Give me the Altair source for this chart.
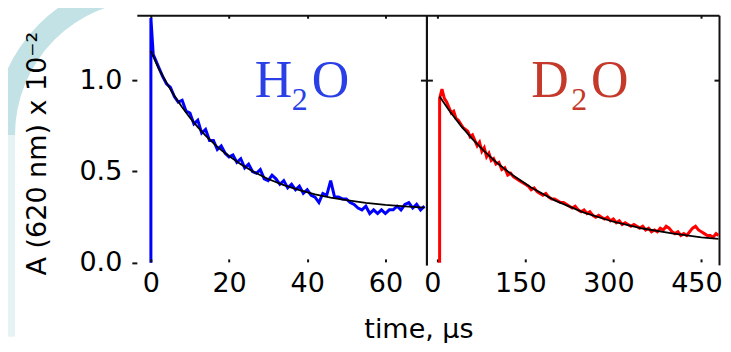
import math
import altair as alt
import pandas as pd

# ---------------- data ----------------
h2o_t = [0, 0, 0.6, 1, 2, 3, 4, 5, 6, 7, 8, 9, 10, 11, 12, 13, 14, 15, 16, 17, 18, 19, 20,
         21, 22, 23, 24, 25, 26, 27, 28, 29, 30, 31, 32, 33, 34, 35, 36, 37, 38, 39, 40,
         41, 42, 43, 44, 45, 46, 47, 48, 49, 50, 51, 52, 53, 54, 55, 56, 57, 58, 59, 60,
         61, 62, 63, 64, 65, 66, 67, 68, 69, 70]
h2o_a = [0.0, 1.34, 1.14, 1.12, 1.07, 1.02, 0.98, 0.96, 0.91, 0.88, 0.89, 0.83, 0.82, 0.76,
         0.78, 0.71, 0.73, 0.67, 0.67, 0.62, 0.64, 0.60, 0.58, 0.59, 0.55, 0.57, 0.52, 0.54,
         0.50, 0.49, 0.51, 0.46, 0.45, 0.48, 0.46, 0.43, 0.45, 0.41, 0.43, 0.40, 0.42, 0.38,
         0.40, 0.37, 0.36, 0.33, 0.38, 0.37, 0.45, 0.36, 0.36, 0.35, 0.35, 0.33, 0.32, 0.30,
         0.29, 0.31, 0.27, 0.29, 0.27, 0.29, 0.27, 0.29, 0.29, 0.31, 0.29, 0.32, 0.33, 0.30,
         0.32, 0.29, 0.31]
h2o_fit_t = [0, 2, 4, 6, 8, 10, 12, 14, 16, 18, 20, 23, 26, 30, 34, 38, 42, 46, 50, 55, 60, 65, 70]
h2o_fit_a = [1.16, 1.063, 0.985, 0.914, 0.851, 0.794, 0.743, 0.696, 0.655, 0.617, 0.584,
             0.539, 0.501, 0.459, 0.425, 0.398, 0.375, 0.357, 0.343, 0.328, 0.317, 0.309, 0.302]

d2o_t = [4, 4, 8, 12, 16, 20, 24, 28, 32, 36, 40, 44, 48, 52, 56, 60, 64, 68, 72, 76, 80, 84,
         88, 92, 96, 100, 105, 110, 115, 120, 125, 130, 135, 140, 145, 150, 155, 160, 165,
         170, 175, 180, 185, 190, 195, 200, 205, 210, 215, 220, 225, 230, 235, 240, 245, 250,
         255, 260, 265, 270, 275, 280, 285, 290, 295, 300, 305, 310, 315, 320, 325, 330, 335,
         340, 345, 350, 355, 360, 365, 370, 375, 380, 385, 390, 395, 400, 405, 410, 415, 420,
         425, 430, 435, 440, 445, 450, 455, 460, 465, 470, 475, 479]
d2o_a = [0.0, 0.90, 0.95, 0.90, 0.88, 0.85, 0.82, 0.83, 0.79, 0.78, 0.76, 0.74, 0.73, 0.72,
         0.69, 0.70, 0.67, 0.64, 0.66, 0.61, 0.63, 0.58, 0.60, 0.56, 0.57, 0.54, 0.55, 0.51,
         0.52, 0.48, 0.49, 0.47, 0.46, 0.45, 0.44, 0.43, 0.42, 0.40, 0.41, 0.39, 0.38, 0.37,
         0.38, 0.36, 0.35, 0.35, 0.34, 0.33, 0.33, 0.32, 0.31, 0.30, 0.31, 0.29, 0.28, 0.29,
         0.27, 0.28, 0.26, 0.25, 0.26, 0.25, 0.24, 0.25, 0.23, 0.24, 0.22, 0.23, 0.21, 0.22,
         0.21, 0.20, 0.21, 0.20, 0.19, 0.20, 0.18, 0.19, 0.17, 0.18, 0.17, 0.19, 0.18, 0.20,
         0.19, 0.17, 0.16, 0.17, 0.15, 0.16, 0.15, 0.17, 0.19, 0.20, 0.18, 0.17, 0.16, 0.15,
         0.15, 0.14, 0.16, 0.15]
d2o_fit_t = [4, 20, 40, 60, 80, 100, 130, 160, 200, 250, 300, 350, 400, 450, 479]
d2o_fit_a = [0.91, 0.835, 0.751, 0.677, 0.611, 0.552, 0.476, 0.412, 0.342, 0.275, 0.225,
             0.188, 0.161, 0.140, 0.131]

h2o_ticks = [0, 20, 40, 60]
d2o_ticks = [0, 150, 300, 450]
y_ticks = [0.0, 0.5, 1.0]
y_mark = [1.0]
d2o_top_ticks = [0, 450]

y_title = "A (620 nm) x 10\u207b\u00b2"
x_title = "time, \u03bcs"

# ---------------- layout / style constants ----------------
SANS = "DejaVu Sans"
SERIF = "Liberation Serif"
Y_DOM = [-0.011, 1.355]
XL_DOM = [-3.6, 70.5]
XR_DOM = [-18.5, 480]
BORDER = "#111111"

# decorative slide-background corner (pixels, relative to the left plot area)
DECO_CX, DECO_CY = 13, 120
DECO_R_OUT, DECO_R_IN = 157, 135
DECO_ARC_COLOR = "#c2e2e5"
DECO_BAND_COLOR = "#e6f3f4"

h2o_df = pd.DataFrame({"t": h2o_t, "a": h2o_a})
h2o_fit_df = pd.DataFrame({"t": h2o_fit_t, "a": h2o_fit_a})
d2o_df = pd.DataFrame({"t": d2o_t, "a": d2o_a})
d2o_fit_df = pd.DataFrame({"t": d2o_fit_t, "a": d2o_fit_a})


def yscale():
    return alt.Scale(domain=Y_DOM, nice=False, zero=False)


def xscale(dom):
    return alt.Scale(domain=dom, nice=False, zero=False)


def label_layers(dom, t0, a0, first, color, dx2, dxo, xaxis, yaxis):
    common = dict(font=SERIF, color=color, align="left", baseline="alphabetic")
    a = alt.Chart().mark_text(text=first, fontSize=52, **common).encode(
        x=alt.X(datum=t0, type="quantitative", scale=xscale(dom), axis=xaxis),
        y=alt.Y(datum=a0, type="quantitative", scale=yscale(), axis=yaxis),
    )
    b = alt.Chart().mark_text(text="2", fontSize=32, dx=dx2, dy=13, **common).encode(
        x=alt.X(datum=t0, type="quantitative", scale=xscale(dom), axis=None),
        y=alt.Y(datum=a0, type="quantitative", scale=yscale(), axis=None),
    )
    c = alt.Chart().mark_text(text="O", fontSize=52, dx=dxo, **common).encode(
        x=alt.X(datum=t0, type="quantitative", scale=xscale(dom), axis=None),
        y=alt.Y(datum=a0, type="quantitative", scale=yscale(), axis=None),
    )
    return [a, b, c]


border_axis_top = alt.Axis(orient="top", domain=True, ticks=False, labels=False,
                           grid=False, title=None, domainColor=BORDER, domainWidth=2)

# ---------------- background decoration ----------------
deco_band = alt.Chart().mark_rect(color=DECO_BAND_COLOR).encode(
    x=alt.value(DECO_CX - DECO_R_OUT), x2=alt.value(DECO_CX - DECO_R_IN),
    y=alt.value(DECO_CY), y2=alt.value(322),
)
deco_arc = alt.Chart().mark_arc(
    color=DECO_ARC_COLOR, theta=1.5 * math.pi, theta2=2 * math.pi,
    radius=DECO_R_OUT, radius2=DECO_R_IN,
).encode(x=alt.value(DECO_CX), y=alt.value(DECO_CY))

# ---------------- left panel: H2O ----------------
left_data = alt.Chart(h2o_df).mark_line(color="#0000ff", strokeWidth=3, clip=True).encode(
    x=alt.X("t:Q", scale=xscale(XL_DOM),
            axis=alt.Axis(orient="bottom", values=h2o_ticks, offset=-6, tickSize=3,
                          tickWidth=2, tickColor=BORDER, domain=False, grid=False,
                          labelPadding=9, labelFontSize=27, labelFont=SANS,
                          labelColor="black", title=x_title, titleFont=SANS,
                          titleFontSize=27, titleFontWeight="normal", titleColor="black",
                          titleX=282, titleY=79, titleBaseline="alphabetic",
                          titleAlign="center", zindex=1)),
    y=alt.Y("a:Q", scale=yscale(),
            axis=alt.Axis(orient="left", values=y_ticks, format=".1f", tickSize=5,
                          tickWidth=2, tickColor=BORDER, domain=False, grid=False,
                          labelPadding=10, labelFontSize=27, labelFont=SANS,
                          labelColor="black", title=y_title, titleFont=SANS,
                          titleFontSize=27, titleFontWeight="normal", titleColor="black",
                          titleY=138, titlePadding=28, zindex=1)),
)
left_fit = alt.Chart(h2o_fit_df).mark_line(color="black", strokeWidth=1.8).encode(
    x=alt.X("t:Q", scale=xscale(XL_DOM),
            axis=alt.Axis(orient="top", values=h2o_ticks, offset=-3, tickSize=3,
                          tickWidth=2, tickColor=BORDER, domain=False, labels=False,
                          grid=False, title=None)),
    y=alt.Y("a:Q", scale=yscale(),
            axis=alt.Axis(orient="right", values=y_mark, tickSize=6, tickWidth=2,
                          tickColor=BORDER, domain=True, domainColor=BORDER,
                          domainWidth=2, labels=False, grid=False, title=None)),
)
left = alt.layer(
    deco_band, deco_arc, left_data, left_fit,
    *label_layers(XL_DOM, 26.6, 0.907, "H", "#2b3fe6", 37, 57, border_axis_top, None),
).properties(width=290, height=250).resolve_axis(x="independent", y="independent")

# ---------------- right panel: D2O ----------------
right_data = alt.Chart(d2o_df).mark_line(color="#ff0000", strokeWidth=3, clip=True).encode(
    x=alt.X("t:Q", scale=xscale(XR_DOM),
            axis=alt.Axis(orient="bottom", values=d2o_ticks, offset=-6, tickSize=3,
                          tickWidth=2, tickColor=BORDER, domain=False, grid=False,
                          labelPadding=9, labelFontSize=27, labelFont=SANS,
                          labelOffset=-5, labelColor="black", title=None)),
    y=alt.Y("a:Q", scale=yscale(),
            axis=alt.Axis(orient="left", values=y_mark, tickSize=6, tickWidth=2,
                          tickColor=BORDER, domain=True, domainColor=BORDER,
                          domainWidth=2, labels=False, grid=False, title=None)),
)
right_fit = alt.Chart(d2o_fit_df).mark_line(color="black", strokeWidth=1.8).encode(
    x=alt.X("t:Q", scale=xscale(XR_DOM),
            axis=alt.Axis(orient="top", values=d2o_top_ticks, offset=-3, tickSize=3,
                          tickWidth=2, tickColor=BORDER, domain=False, labels=False,
                          grid=False, title=None)),
    y=alt.Y("a:Q", scale=yscale(),
            axis=alt.Axis(orient="right", values=y_mark, ticks=False, domain=True,
                          domainColor=BORDER, domainWidth=2, labels=False, grid=False,
                          title=None)),
)
right_inner_tick = alt.Axis(orient="right", values=y_mark, offset=-5, tickSize=5,
                            tickWidth=2, tickColor=BORDER, domain=False, labels=False,
                            grid=False, title=None)
right = alt.layer(
    right_data, right_fit,
    *label_layers(XR_DOM, 160, 0.907, "D", "#c4392a", 40, 60, border_axis_top,
                  right_inner_tick),
).properties(width=293, height=250).resolve_axis(x="independent", y="independent")

chart = alt.hconcat(left, right, spacing=0, bounds="flush").properties(
    padding={"left": -15, "top": -30, "right": 0, "bottom": 0}
).configure_view(stroke=None)

chart.save("out.html", embed_options={"renderer": "svg", "actions": False})
